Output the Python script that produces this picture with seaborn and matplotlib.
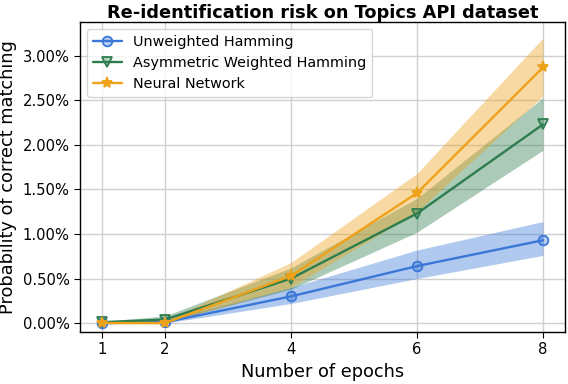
import matplotlib
matplotlib.use("Agg")
import matplotlib.pyplot as plt
import seaborn as sns
import numpy as np
import pandas as pd
from matplotlib.ticker import PercentFormatter

epochs = [1, 2, 4, 6, 8]
unweighted = [0.00, 0.01, 0.30, 0.64, 0.93]
unweighted_lo = [0.00, 0.00, 0.22, 0.50, 0.76]
unweighted_hi = [0.01, 0.03, 0.40, 0.82, 1.14]
asym = [0.01, 0.04, 0.50, 1.23, 2.23]
asym_lo = [0.00, 0.01, 0.38, 1.02, 1.94]
asym_hi = [0.02, 0.08, 0.62, 1.40, 2.53]
nn = [0.00, 0.00, 0.53, 1.46, 2.87]
nn_lo = [0.00, 0.00, 0.40, 1.25, 2.55]
nn_hi = [0.01, 0.03, 0.68, 1.68, 3.20]

names = ["Unweighted Hamming", "Asymmetric Weighted Hamming", "Neural Network"]
colors = ["#3a78d8", "#2e7d4f", "#eea21a"]
markers = ["o", "v", "*"]

sns.set_style("ticks")
plt.rcParams['font.family'] = ['DejaVu Sans']
for k in ['text.color', 'axes.labelcolor', 'xtick.color', 'ytick.color', 'axes.edgecolor']:
    plt.rcParams[k] = 'black'

fig, ax = plt.subplots(figsize=(5.68, 3.84), dpi=100)
fig.subplots_adjust(left=80/568, right=565/568, top=1-22/384, bottom=1-332/384)

series = [(unweighted, unweighted_lo, unweighted_hi),
          (asym, asym_lo, asym_hi),
          (nn, nn_lo, nn_hi)]
for (vals, lo, hi), name, c, m in zip(series, names, colors, markers):
    df = pd.DataFrame({"epoch": epochs, "val": vals})
    ax.fill_between(epochs, lo, hi, color=c, alpha=0.4, linewidth=0)
    sns.lineplot(data=df, x="epoch", y="val", ax=ax, color=c, marker=m,
                 markersize=7 if m != "*" else 8, linewidth=1.7,
                 markeredgecolor=c, markeredgewidth=1.3,
                 markerfacecolor=(matplotlib.colors.to_rgba(c, 0.35) if m != "*" else c),
                 label=name)

ax.set_xticks(epochs)
ax.set_yticks([0, 0.5, 1.0, 1.5, 2.0, 2.5, 3.0])
ax.yaxis.set_major_formatter(PercentFormatter(decimals=2))
ax.set_xlim(0.65, 8.35)
ax.set_ylim(-0.1, 3.38)
ax.set_xlabel("Number of epochs", fontsize=12.8)
ax.set_ylabel("Probability of correct matching", fontsize=12.8)
ax.set_title("Re-identification risk on Topics API dataset", fontsize=12.8,
             fontweight="bold", pad=3)
ax.tick_params(axis='both', labelsize=10.6, length=4, color='black')
for s in ax.spines.values():
    s.set_edgecolor('black')
    s.set_linewidth(1.0)
ax.set_axisbelow(True)
ax.grid(True, color='#d0d0d0', linewidth=1)
ax.legend(loc="upper left", fontsize=10.4, frameon=True)
fig.savefig("out.png", dpi=100)
